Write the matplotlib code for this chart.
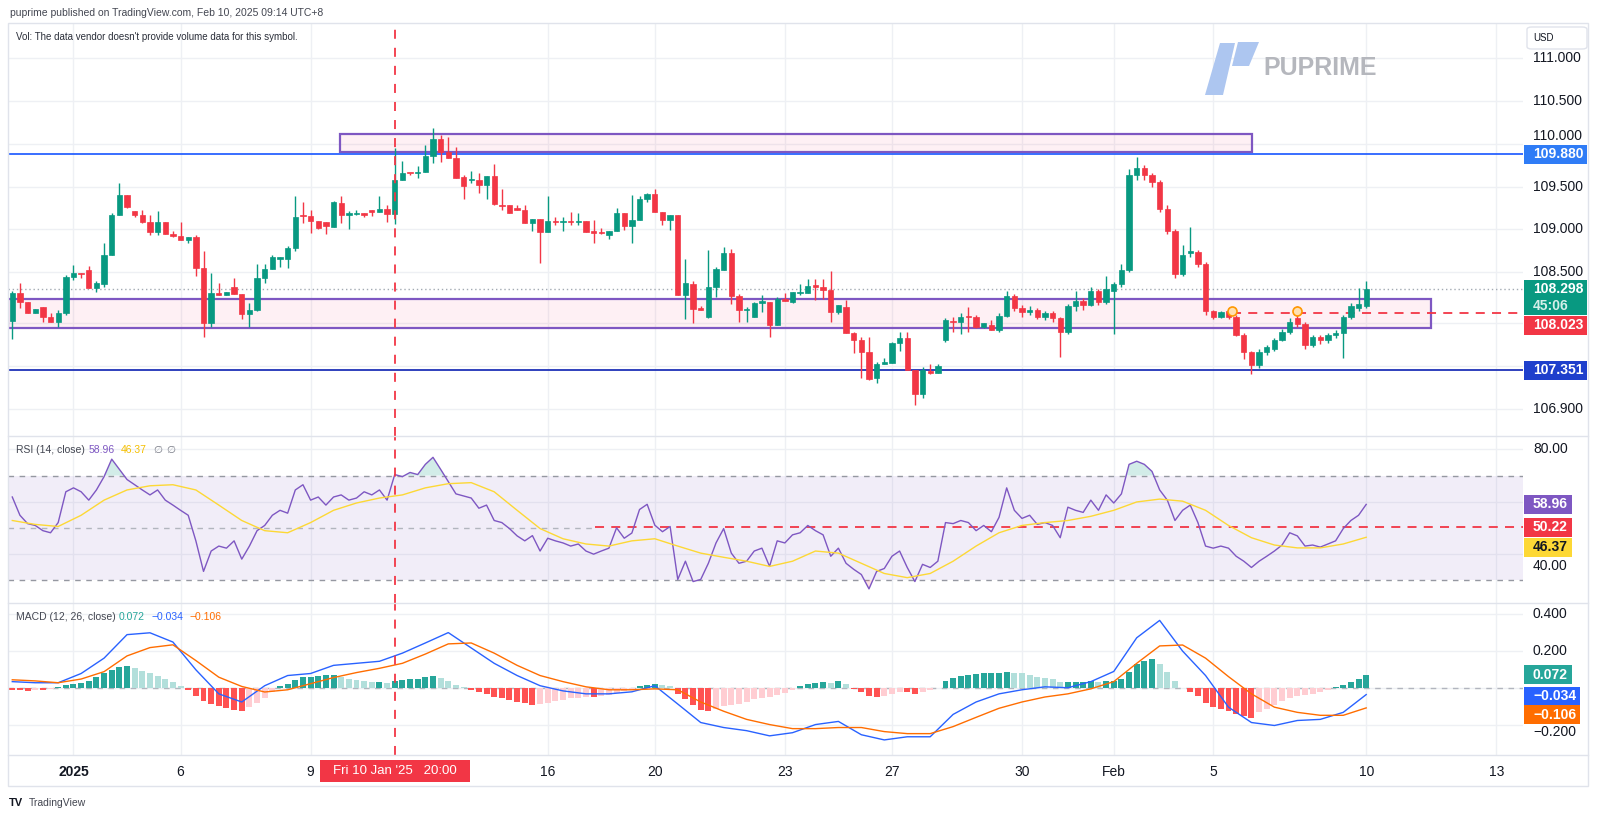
import numpy as np
import matplotlib
matplotlib.use("Agg")
import matplotlib.pyplot as plt
import matplotlib.transforms as mtrans
from matplotlib.patches import Rectangle, Polygon, FancyBboxPatch

plt.rcParams['font.family'] = ['Liberation Sans', 'DejaVu Sans']

# 4H candles, US dollar index, 31 Dec 2024 -> 10 Feb 2025 (UTC+8)
opens = [107.93, 108.26, 108.15, 108.025, 108.09, 107.97, 107.92, 108.02, 108.44, 108.485,
         108.52, 108.31, 108.36, 108.70, 109.17, 109.40, 109.21, 109.167, 109.08, 108.97,
         109.08, 108.95, 108.92, 108.88, 108.91, 108.55, 107.91, 108.26, 108.23, 108.33,
         108.24, 108.005, 108.056, 108.434, 108.54, 108.65, 108.65, 108.785, 109.16, 109.16,
         109.10, 109.09, 109.03, 109.31, 109.17, 109.18, 109.19, 109.23, 109.20, 109.24,
         109.18, 109.576, 109.66, 109.655, 109.665, 109.86, 110.056, 109.91, 109.83, 109.61,
         109.58, 109.576, 109.52, 109.623, 109.29, 109.285, 109.245, 109.23, 109.07, 109.12,
         108.964, 109.097, 109.085, 109.09, 109.085, 109.097, 108.98, 108.964, 108.93, 108.98,
         109.186, 109.04, 109.108, 109.35, 109.413, 109.2, 109.108, 109.167, 108.231, 108.36,
         108.08, 107.977, 108.325, 108.53, 108.718, 108.22, 108.06, 107.977, 108.134, 108.153,
         107.88, 108.18, 108.153, 108.26, 108.26, 108.344, 108.33, 108.29, 108.036, 108.087,
         107.79, 107.705, 107.568, 107.256, 107.424, 107.44, 107.673, 107.724, 107.36, 107.08,
         107.346, 107.315, 107.705, 107.93, 107.92, 107.985, 107.97, 107.853, 107.88, 107.82,
         107.99, 108.22, 108.08, 108.03, 108.06, 107.98, 108.02, 107.96, 107.80, 108.10,
         108.16, 108.12, 108.28, 108.15, 108.28, 108.36, 108.52, 109.64, 109.72, 109.63,
         109.55, 109.24, 108.98, 108.48, 108.72, 108.74, 108.60, 108.04, 107.98, 108.04,
         107.98, 107.77, 107.57, 107.41, 107.56, 107.60, 107.71, 107.80, 107.96, 107.89,
         107.65, 107.74, 107.70, 107.76, 107.79, 107.98, 108.08, 108.10]
highs = [108.28, 108.375, 108.15, 108.07, 108.09, 108.025, 108.06, 108.465, 108.582, 108.49,
         108.57, 108.395, 108.835, 109.19, 109.545, 109.40, 109.21, 109.23, 109.167, 109.21,
         109.08, 108.98, 109.08, 108.91, 108.93, 108.75, 108.485, 108.37, 108.27, 108.43,
         108.24, 108.134, 108.59, 108.59, 108.70, 108.68, 108.80, 109.39, 109.32, 109.23,
         109.10, 109.09, 109.33, 109.39, 109.214, 109.23, 109.19, 109.23, 109.39, 109.28,
         109.95, 109.80, 109.66, 109.74, 109.985, 110.18, 110.10, 110.08, 109.96, 109.64,
         109.68, 109.66, 109.623, 109.763, 109.475, 109.285, 109.29, 109.29, 109.12, 109.12,
         109.39, 109.147, 109.147, 109.206, 109.195, 109.097, 109.11, 109.01, 108.98, 109.25,
         109.186, 109.40, 109.39, 109.43, 109.475, 109.2, 109.167, 109.167, 108.652, 108.395,
         108.10, 108.757, 108.56, 108.79, 108.77, 108.24, 108.09, 108.153, 108.23, 108.153,
         108.21, 108.25, 108.27, 108.36, 108.42, 108.42, 108.42, 108.51, 108.11, 108.17,
         107.80, 107.744, 107.744, 107.45, 107.494, 107.685, 107.795, 107.80, 107.36, 107.393,
         107.424, 107.43, 107.96, 107.98, 108.02, 108.095, 108.0, 107.907, 107.94, 108.02,
         108.28, 108.24, 108.12, 108.10, 108.08, 108.05, 108.04, 107.98, 108.13, 108.28,
         108.20, 108.32, 108.30, 108.46, 108.38, 108.60, 109.70, 109.85, 109.75, 109.66,
         109.58, 109.28, 109.00, 108.82, 109.03, 108.76, 108.62, 108.06, 108.05, 108.08,
         108.00, 107.79, 107.58, 107.60, 107.65, 107.73, 107.84, 107.96, 108.10, 107.92,
         107.77, 107.77, 107.79, 107.82, 108.00, 108.14, 108.31, 108.39]
lows = [107.72, 108.08, 108.02, 108.02, 107.92, 107.92, 107.86, 108.0, 108.41, 108.43,
        108.31, 108.27, 108.33, 108.70, 109.17, 109.25, 109.147, 109.07, 108.93, 108.93,
        108.94, 108.91, 108.88, 108.84, 108.45, 107.74, 107.86, 108.23, 108.23, 108.24,
        107.95, 107.86, 108.04, 108.37, 108.54, 108.56, 108.55, 108.75, 109.07, 108.96,
        109.0, 108.95, 109.03, 109.07, 109.0, 109.17, 109.15, 109.155, 109.20, 109.08,
        109.06, 109.576, 109.63, 109.60, 109.665, 109.77, 109.79, 109.83, 109.60, 109.36,
        109.545, 109.43, 109.35, 109.29, 109.225, 109.186, 109.225, 109.07, 108.98, 108.61,
        108.964, 109.05, 108.98, 109.05, 109.05, 108.972, 108.844, 108.95, 108.89, 108.98,
        108.99, 108.844, 109.108, 109.32, 109.2, 109.05, 108.99, 108.23, 107.95, 107.91,
        108.056, 107.96, 108.21, 108.53, 108.13, 107.92, 107.92, 107.97, 108.036, 107.744,
        107.88, 108.165, 108.14, 108.23, 108.26, 108.17, 108.19, 107.92, 108.005, 107.79,
        107.55, 107.256, 107.24, 107.20, 107.42, 107.44, 107.576, 107.36, 106.944, 107.03,
        107.31, 107.315, 107.68, 107.80, 107.775, 107.80, 107.85, 107.85, 107.82, 107.80,
        107.97, 108.05, 107.98, 108.00, 107.95, 107.94, 107.92, 107.51, 107.78, 108.05,
        108.06, 108.10, 108.12, 108.13, 107.78, 108.33, 108.50, 109.58, 109.58, 109.50,
        109.20, 108.94, 108.43, 108.45, 108.68, 108.56, 108.00, 107.95, 107.96, 107.95,
        107.75, 107.48, 107.31, 107.38, 107.53, 107.58, 107.69, 107.78, 107.86, 107.60,
        107.62, 107.66, 107.67, 107.73, 107.50, 107.95, 108.05, 108.08]
closes = [108.26, 108.15, 108.025, 108.07, 107.97, 107.92, 108.025, 108.438, 108.485, 108.478,
          108.31, 108.368, 108.699, 109.167, 109.40, 109.256, 109.167, 109.09, 108.97, 109.08,
          108.95, 108.92, 108.88, 108.91, 108.55, 107.91, 108.26, 108.23, 108.27, 108.24,
          108.005, 108.056, 108.434, 108.535, 108.68, 108.68, 108.785, 109.147, 109.155, 109.10,
          109.02, 109.04, 109.315, 109.167, 109.19, 109.19, 109.167, 109.20, 109.24, 109.18,
          109.576, 109.662, 109.655, 109.67, 109.86, 110.056, 109.908, 109.83, 109.604, 109.506,
          109.585, 109.52, 109.623, 109.292, 109.276, 109.195, 109.23, 109.07, 109.12, 108.964,
          109.097, 109.09, 109.09, 109.085, 109.097, 108.972, 108.96, 108.96, 108.98, 109.186,
          109.04, 109.108, 109.35, 109.413, 109.2, 109.108, 109.167, 108.231, 108.367, 108.067,
          108.056, 108.325, 108.531, 108.718, 108.22, 108.056, 108.07, 108.134, 108.16, 107.88,
          108.18, 108.165, 108.27, 108.27, 108.336, 108.32, 108.29, 108.036, 108.11, 107.79,
          107.705, 107.568, 107.25, 107.424, 107.45, 107.673, 107.73, 107.36, 107.08, 107.354,
          107.315, 107.40, 107.939, 107.92, 107.98, 107.97, 107.853, 107.907, 107.82, 107.99,
          108.22, 108.08, 108.03, 108.06, 107.98, 108.02, 107.96, 107.80, 108.10, 108.16,
          108.12, 108.28, 108.15, 108.30, 108.36, 108.52, 109.64, 109.72, 109.63, 109.55,
          109.24, 108.98, 108.48, 108.70, 108.75, 108.60, 108.04, 107.98, 108.03, 107.98,
          107.77, 107.57, 107.41, 107.56, 107.62, 107.71, 107.80, 107.92, 107.89, 107.65,
          107.74, 107.70, 107.76, 107.79, 107.98, 108.10, 108.13, 108.298]

# RSI(14) per candle, and its moving average read every 3rd candle
rsi = [61.8, 54.8, 51.6, 50.9, 48.9, 48.1, 52.0, 63.8, 65.3, 63.8,
       60.6, 64.5, 69.6, 76.3, 72.4, 68.5, 66.5, 64.5, 62.6, 64.5,
       60.6, 58.7, 56.7, 54.8, 45.0, 33.3, 41.1, 43.0, 42.2, 45.0,
       38.0, 43.0, 48.9, 50.9, 54.8, 56.7, 55.6, 64.5, 66.5, 60.6,
       61.8, 58.7, 61.8, 62.6, 60.6, 61.4, 63.8, 62.6, 64.5, 60.6,
       70.4, 69.6, 71.2, 70.4, 74.3, 77.0, 72.4, 67.7, 63.0, 62.2,
       61.4, 57.5, 58.7, 52.8, 52.0, 49.7, 46.9, 45.0, 47.0, 41.1,
       46.0, 45.0, 44.2, 43.0, 43.8, 41.1, 39.9, 41.1, 42.2, 50.0,
       46.0, 48.0, 57.0, 59.0, 51.0, 48.5, 50.5, 30.2, 37.2, 29.4,
       30.2, 36.4, 44.2, 49.7, 40.3, 36.4, 37.2, 41.1, 42.2, 35.2,
       45.0, 44.2, 47.3, 48.1, 50.9, 48.9, 47.3, 39.1, 42.2, 36.4,
       34.1, 32.1, 26.6, 33.3, 34.4, 39.1, 41.1, 34.8, 29.4, 36.0,
       34.8, 37.2, 52.0, 51.6, 52.8, 52.0, 48.9, 50.9, 48.5, 54.0,
       65.3, 56.7, 53.6, 54.8, 51.3, 52.0, 50.9, 46.2, 57.9, 56.7,
       55.9, 60.6, 56.7, 62.6, 59.5, 63.0, 74.3, 75.5, 74.3, 71.6,
       64.5, 60.6, 52.8, 56.7, 58.7, 52.0, 43.0, 42.2, 43.0, 42.2,
       39.1, 37.2, 34.8, 37.2, 39.1, 41.1, 43.4, 48.1, 46.9, 43.0,
       43.4, 42.6, 43.8, 45.0, 49.7, 52.8, 54.8, 58.96]
rsi_ma = [52.8, 51.3, 50.5, 54.8, 60.6, 64.5, 66.1, 66.5, 64.5, 58.7,
          52.8, 48.9, 48.1, 52.0, 56.7, 59.5, 61.4, 62.6, 65.3, 66.9,
          67.3, 63.8, 56.7, 49.7, 45.8, 43.8, 43.0, 45.0, 45.8, 43.0,
          40.3, 38.7, 37.2, 35.2, 37.2, 41.1, 40.3, 36.4, 32.5, 30.9,
          32.5, 37.2, 43.0, 48.1, 50.9, 52.0, 52.8, 54.4, 56.7, 59.9,
          61.0, 60.2, 56.7, 50.9, 46.2, 43.4, 42.3, 42.3, 43.8, 46.37]

# MACD(12, 26, 9): lines read every 3rd candle, histogram per candle
macd_line = [0.036, 0.030, 0.030, 0.080, 0.163, 0.290, 0.300, 0.250, 0.100, -0.030,
             -0.074, 0.014, 0.069, 0.080, 0.124, 0.135, 0.146, 0.190, 0.245, 0.301,
             0.218, 0.135, 0.069, 0.014, -0.014, -0.030, -0.030, -0.019, 0.014, -0.085,
             -0.185, -0.212, -0.229, -0.257, -0.240, -0.196, -0.179, -0.251, -0.279, -0.262,
             -0.262, -0.141, -0.074, -0.030, -0.008, 0.008, 0.003, 0.036, 0.091, 0.273,
             0.367, 0.201, 0.069, -0.102, -0.185, -0.201, -0.174, -0.168, -0.130, -0.034]
signal_line = [0.046, 0.040, 0.030, 0.050, 0.090, 0.175, 0.220, 0.235, 0.150, 0.060,
               0.010, -0.020, -0.008, 0.025, 0.058, 0.085, 0.108, 0.135, 0.185, 0.240,
               0.245, 0.190, 0.124, 0.069, 0.036, 0.008, -0.008, -0.008, -0.003, -0.008,
               -0.074, -0.124, -0.168, -0.196, -0.218, -0.218, -0.212, -0.212, -0.234, -0.245,
               -0.245, -0.207, -0.157, -0.108, -0.074, -0.047, -0.030, -0.003, 0.036, 0.135,
               0.229, 0.234, 0.163, 0.063, -0.030, -0.102, -0.130, -0.146, -0.146, -0.106]
macd_hist = [-0.01, -0.01, -0.015, -0.01, -0.01, -0.005, 0.005, 0.02, 0.025, 0.03,
             0.04, 0.06, 0.08, 0.10, 0.115, 0.12, 0.11, 0.095, 0.08, 0.065,
             0.05, 0.035, 0.015, -0.01, -0.04, -0.07, -0.085, -0.095, -0.105, -0.115,
             -0.12, -0.10, -0.08, -0.05, -0.02, 0.01, 0.025, 0.045, 0.06, 0.06,
             0.065, 0.07, 0.07, 0.06, 0.05, 0.045, 0.04, 0.035, 0.035, 0.03,
             0.04, 0.045, 0.05, 0.05, 0.06, 0.065, 0.055, 0.04, 0.02, 0.005,
             -0.01, -0.02, -0.03, -0.045, -0.05, -0.065, -0.075, -0.08, -0.09, -0.085,
             -0.08, -0.07, -0.065, -0.055, -0.05, -0.045, -0.045, -0.04, -0.035, -0.025,
             -0.015, -0.01, 0.01, 0.02, 0.025, 0.02, 0.015, -0.03, -0.06, -0.09,
             -0.115, -0.12, -0.11, -0.095, -0.09, -0.085, -0.075, -0.06, -0.05, -0.045,
             -0.035, -0.025, -0.01, 0.01, 0.025, 0.03, 0.035, 0.03, 0.04, 0.025,
             -0.005, -0.02, -0.04, -0.045, -0.04, -0.03, -0.02, -0.02, -0.03, -0.02,
             -0.01, 0.0, 0.04, 0.055, 0.065, 0.07, 0.075, 0.08, 0.08, 0.085,
             0.09, 0.085, 0.08, 0.07, 0.06, 0.055, 0.05, 0.035, 0.035, 0.035,
             0.035, 0.04, 0.035, 0.04, 0.04, 0.05, 0.09, 0.13, 0.15, 0.16,
             0.13, 0.09, 0.04, 0.0, -0.02, -0.04, -0.08, -0.10, -0.11, -0.12,
             -0.14, -0.15, -0.16, -0.13, -0.11, -0.09, -0.07, -0.05, -0.04, -0.035,
             -0.03, -0.02, -0.01, 0.005, 0.02, 0.035, 0.05, 0.072]

# time axis (bar index of the first bar of the day)
date_pos = [8, 22, 39, 70, 84, 101, 115, 132, 144, 157, 177, 194]
date_lab = ['2025', '6', '9', '16', '20', '23', '27', '30', 'Feb', '5', '10', '13']

# drawings
resistance = 109.880
support = 107.351
zone_low = [107.85, 108.185]        # pink zone, bars -0.5 .. 185.5
zone_high = [109.90, 110.115]       # upper zone, bars 42.9 .. 162.1
marked_bar = 50                     # Fri 10 Jan '25 20:00
last_price = 108.298
prev_close = 108.023
rsi_level = 50.22
alert_bar = [159.5, 168]
alert_price = [108.05, 108.05]

GRID = '#eef0f4'
UP, DN = '#089981', '#f23645'
W, H = 1600, 819
AXFS = 10

fig = plt.figure(figsize=(W / 100, H / 100), dpi=100)
fig.patch.set_facecolor('white')
XL = (-0.56, 197.5)


def pane(top, bottom, ylim):
    a = fig.add_axes([8 / W, 1 - bottom / H, 1515 / W, (bottom - top) / H])
    a.set_xlim(*XL)
    a.set_ylim(*ylim)
    a.set_axis_off()
    for d in date_pos:
        a.axvline(d, color=GRID, lw=1, zorder=0)
    return a


def ylabels(a, vals, labels, nudge=None):
    # nudge: pixel shift for labels that sit against a price tag
    nudge = nudge or {}
    for v, t in zip(vals, labels):
        a.axhline(v, color=GRID, lw=1, zorder=0)
        if t:
            a.annotate(t, xy=(1.0066, v), xycoords=a.get_yaxis_transform(),
                       xytext=(0, nudge.get(t, 0)), textcoords='offset pixels',
                       ha='left', va='center', fontsize=AXFS, color='#131722',
                       annotation_clip=False, zorder=5)


def tag(a, v, label, fc, tc='white', dy=0, w=0.0416, h=19):
    lo, hi = a.get_ylim()
    ppu = a.bbox.height / (hi - lo)
    tr = a.get_yaxis_transform()
    yc = v - dy / ppu
    a.add_patch(Rectangle((1.0007, yc - h / 2 / ppu), w, h / ppu, transform=tr,
                          fc=fc, ec='none', clip_on=False, zorder=20))
    a.text(1.0066, yc, label, transform=tr, ha='left', va='center', fontsize=AXFS,
           fontweight='bold', color=tc, clip_on=False, zorder=21)
    return ppu


ax = pane(23, 436, (106.583, 111.413))
ax_rsi = pane(436, 603, (21.19, 85.17))
ax_macd = pane(603, 755, (-0.3605, 0.461))

# ---- price pane
ylabels(ax, [111, 110.5, 110, 109.5, 109, 108.5, 107.9, 107.4, 106.9],
        ['111.000', '110.500', '110.000', '109.500', '109.000', '108.500', '', '', '106.900'],
        nudge={'110.000': 8})

x = np.arange(len(closes))
o, h, l, c = map(np.array, (opens, highs, lows, closes))
col = np.where(c >= o, UP, DN)

ax.add_patch(Rectangle((-0.5, zone_low[0]), 186.0, zone_low[1] - zone_low[0],
                       fc=(0.95, 0.2, 0.42, 0.07), ec='#7e57c2', lw=1.6, zorder=2))
ax.add_patch(Rectangle((42.9, zone_high[0]), 119.2, zone_high[1] - zone_high[0],
                       fc=(0.95, 0.2, 0.42, 0.07), ec='#7e57c2', lw=1.6, zorder=2))
ax.axhline(resistance, color='#2962ff', lw=1.3, zorder=2)
ax.axhline(support, color='#1f32b8', lw=1.3, zorder=2)
ax.axhline(last_price, color='#a3aab3', lw=1, ls=(0, (1, 2)), zorder=1)
ax.hlines(prev_close, 159.4, XL[1], color=DN, lw=1.3, ls=(0, (5, 4)), zorder=2)

ax.vlines(x, l, h, colors=col, lw=1, zorder=3)
ax.bar(x, np.maximum(np.abs(c - o), 0.012), bottom=np.minimum(o, c), width=0.7,
       color=col, edgecolor=col, lw=0.5, zorder=4)
ax.scatter(alert_bar, alert_price, s=42, facecolor='#ffe0b2', edgecolor='#ff9800',
           lw=1.2, zorder=6)

tag(ax, resistance, '109.880', '#2f7cf6')
tag(ax, support, '107.351', '#1e3fcc')
p = tag(ax, last_price, '', UP, dy=8.2, h=35)
tr = ax.get_yaxis_transform()
ax.text(1.0066, last_price, '108.298', transform=tr, ha='left', va='center', fontsize=AXFS,
        fontweight='bold', color='white', clip_on=False, zorder=21)
ax.text(1.0066, last_price - 16.7 / p, '45:06', transform=tr, ha='left', va='center',
        fontsize=AXFS, fontweight='bold', color='#d5efe9', clip_on=False, zorder=21)
tag(ax, prev_close, '108.023', DN, dy=12.5)

# ---- RSI pane
ylabels(ax_rsi, [80, 60, 40], ['80.00', '', '40.00'], nudge={'40.00': -12})
ax_rsi.axhspan(30, 70, color=(0.494, 0.341, 0.761, 0.1), lw=0, zorder=0.5)
ax_rsi.axhline(70, color='#9598a1', lw=1, ls=(0, (4, 4)), zorder=1)
ax_rsi.axhline(30, color='#9598a1', lw=1, ls=(0, (4, 4)), zorder=1)
ax_rsi.hlines(50, XL[0], 76.2, color='#b2b5be', lw=1, ls=(0, (4, 4)), zorder=1)
ax_rsi.hlines(rsi_level, 76.2, XL[1], color=DN, lw=1.3, ls=(0, (5, 4)), zorder=2)
r = np.array(rsi)
ax_rsi.fill_between(x, r, 70, where=r > 70, interpolate=True, color=UP, alpha=0.18, lw=0)
ax_rsi.fill_between(x, r, 30, where=r < 30, interpolate=True, color=DN, alpha=0.15, lw=0)
ax_rsi.plot(x, r, color='#7e57c2', lw=1, zorder=3)
ax_rsi.plot(np.arange(0, len(closes), 3), rsi_ma, color='#fdd835', lw=1, zorder=3)
tag(ax_rsi, 58.96, '58.96', '#7e57c2', w=0.0317)
tag(ax_rsi, rsi_level, '50.22', DN, w=0.0317)
tag(ax_rsi, 46.37, '46.37', '#fdd835', tc='#131722', dy=10, w=0.0317)

# ---- MACD pane
ylabels(ax_macd, [0.4, 0.2, 0.0, -0.2], ['0.400', '0.200', '', '\u22120.200'],
        nudge={'\u22120.200': -7})
ax_macd.axhline(0, color='#b2b5be', lw=1, ls=(0, (4, 4)), zorder=1)
hv = np.array(macd_hist)
prev = np.r_[hv[0], hv[:-1]]
hcol = np.where(hv >= 0, np.where(hv >= prev, '#26a69a', '#b2dfdb'),
                np.where(hv <= prev, '#ff5252', '#ffcdd2'))
ax_macd.bar(x, hv, width=0.78, color=hcol, zorder=2)
xs = np.arange(0, len(closes), 3)
ax_macd.plot(xs, macd_line, color='#2962ff', lw=1, zorder=3)
ax_macd.plot(xs, signal_line, color='#ff6d00', lw=1, zorder=3)
tag(ax_macd, 0.072, '0.072', '#26a69a', w=0.0317)
tag(ax_macd, -0.034, '\u22120.034', '#2962ff', w=0.037, dy=1.5)
tag(ax_macd, -0.106, '\u22120.106', '#ff6d00', w=0.037, dy=7)

# vertical marker through all panes
for a in (ax, ax_rsi, ax_macd):
    a.axvline(marked_bar, color=DN, lw=1.3, ls=(0, (5, 5)), zorder=7)


def fx(xp):
    return xp / W


def fy(yp):
    return 1 - yp / H


# ---- frame and separators
frame = Rectangle((fx(8), fy(786)), fx(1588) - fx(8), fy(23) - fy(786),
                  transform=fig.transFigure, fill=False, ec='#e0e3eb', lw=1)
fig.add_artist(frame)
for yy in (436, 603, 755):
    fig.add_artist(plt.Line2D([fx(8), fx(1588)], [fy(yy), fy(yy)],
                              transform=fig.transFigure, color='#e0e3eb', lw=1))

# time axis
btr = mtrans.blended_transform_factory(ax_macd.transData, fig.transFigure)
for d, t in zip(date_pos, date_lab):
    ax_macd.text(d, fy(772), t, transform=btr, ha='center', va='center', fontsize=AXFS,
                 color='#131722', fontweight='bold' if t == '2025' else 'normal', clip_on=False)
ax_macd.add_patch(Rectangle((marked_bar - 9.8, fy(782)), 19.6, fy(760) - fy(782), transform=btr,
                            fc=DN, ec='none', clip_on=False, zorder=20))
ax_macd.text(marked_bar, fy(771), "Fri 10 Jan '25   20:00", transform=btr, ha='center',
             va='center', fontsize=9.5, color='white', clip_on=False, zorder=21)

# header and legends
fig.text(fx(10), fy(13), 'puprime published on TradingView.com, Feb 10, 2025 09:14 UTC+8',
         fontsize=7.5, color='#434651', va='center')
fig.text(fx(16), fy(36.5), "Vol: The data vendor doesn't provide volume data for this symbol.",
         fontsize=7, color='#2a2e39', va='center')

legend_rsi = [(16, 'RSI (14, close)', '#434651'), (89, '58.96', '#7e57c2'),
              (121, '46.37', '#f5bf00'), (153, '\u2205', '#787b86'), (166, '\u2205', '#787b86')]
for xp, t, cc in legend_rsi:
    fig.text(fx(xp), fy(450), t, fontsize=7.5, color=cc, va='center')
legend_macd = [(16, 'MACD (12, 26, close)', '#434651'), (119, '0.072', '#26a69a'),
               (152, '\u22120.034', '#2962ff'), (189, '\u22120.106', '#ff6d00')]
for xp, t, cc in legend_macd:
    fig.text(fx(xp), fy(617), t, fontsize=7.5, color=cc, va='center')

# USD box
fig.add_artist(FancyBboxPatch((fx(1527), fy(49)), fx(1587) - fx(1527), fy(27) - fy(49),
                              boxstyle='round,pad=0,rounding_size=0.003', transform=fig.transFigure,
                              fc='white', ec='#e0e3eb', lw=1))
fig.text(fx(1533), fy(38), 'USD', fontsize=7, color='#131722', va='center')

# PU Prime watermark
for pts in ([(1220, 43), (1235, 43), (1223, 95), (1205, 95)],
            [(1238, 42), (1259, 42), (1249, 66), (1232, 66)]):
    fig.add_artist(Polygon([(fx(a), fy(b)) for a, b in pts], closed=True,
                           transform=fig.transFigure, fc='#adc6f0', ec='none'))
fig.text(fx(1263), fy(68), 'PUPRIME', fontsize=18, fontweight='bold', color='#b5b7bd', va='center')

# footer
fig.text(fx(9), fy(803), 'TV', fontsize=8, fontweight='heavy', color='#131722', va='center')
fig.text(fx(29), fy(803), 'TradingView', fontsize=7.5, color='#434651', va='center')

fig.savefig('out.png', dpi=100)
